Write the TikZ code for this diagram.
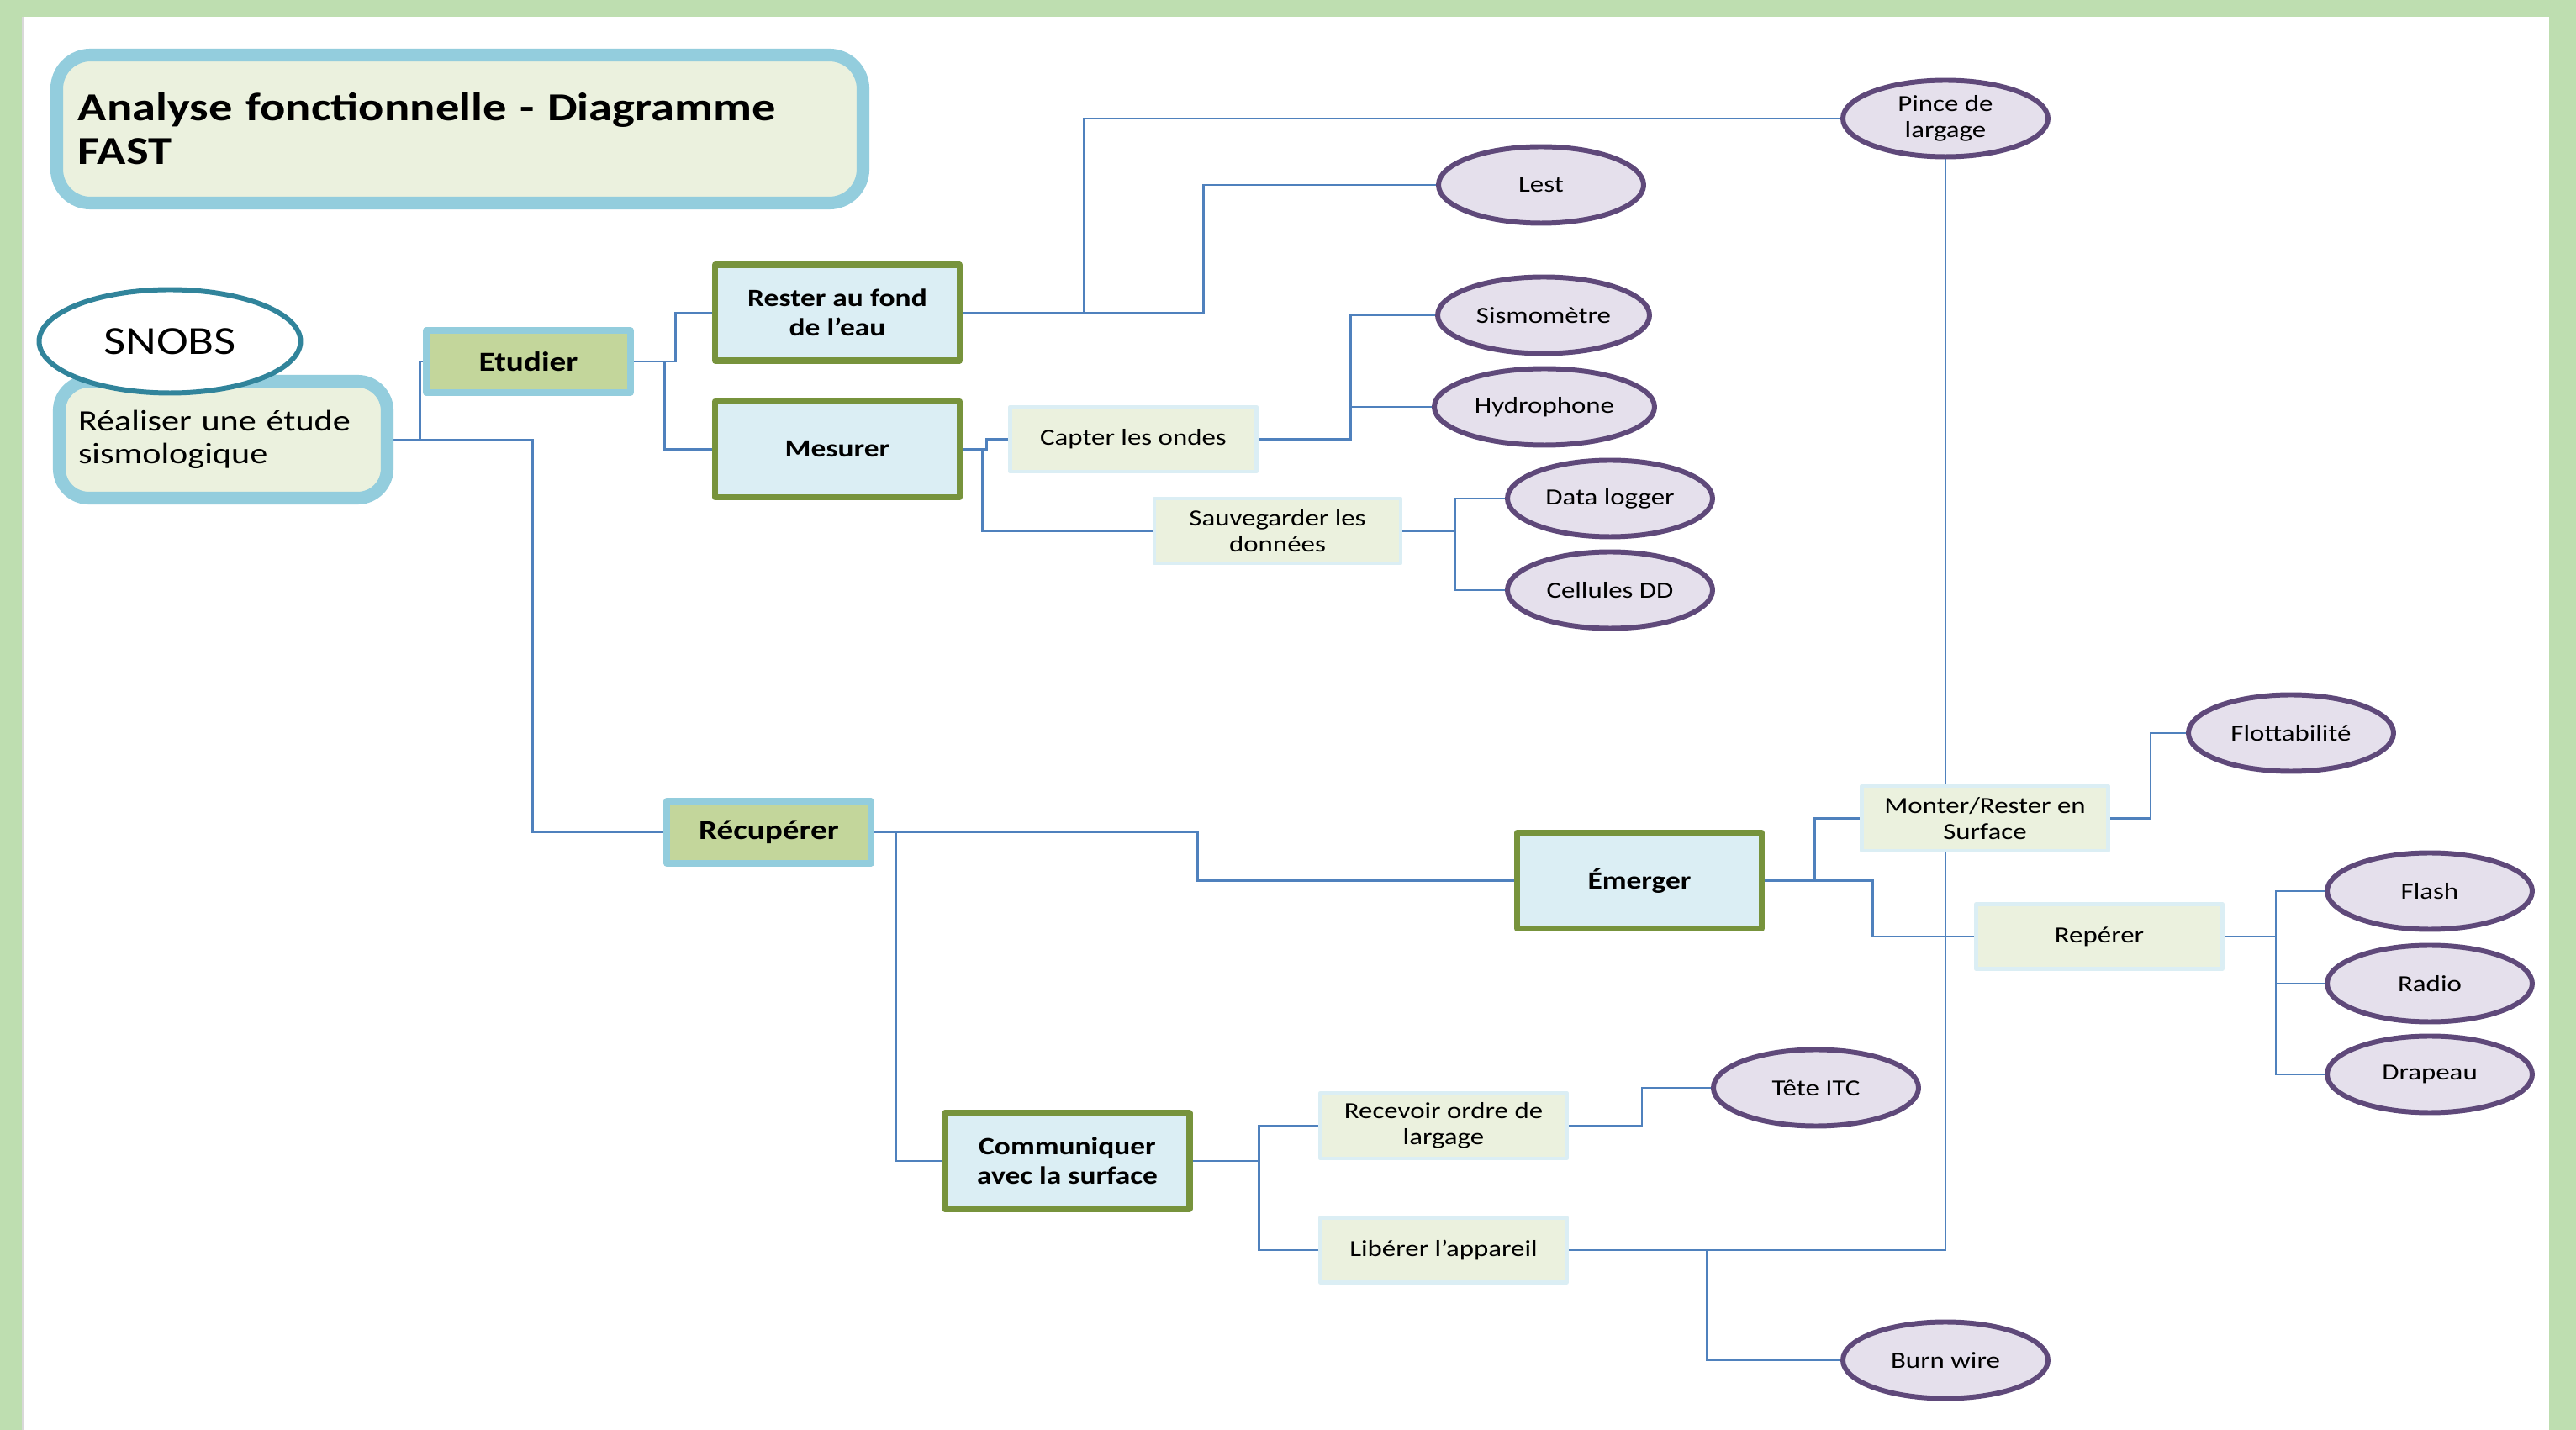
\documentclass[tikz,border=0pt]{standalone}
\usepackage{fontspec}
\setmainfont[FakeStretch=1.2]{Carlito}
\usetikzlibrary{shapes.geometric,backgrounds}
\definecolor{cadre}{RGB}{190,222,176}
\definecolor{bleuC}{RGB}{147,205,221}
\definecolor{vertP}{RGB}{235,241,222}
\definecolor{sarcelle}{RGB}{49,132,155}
\definecolor{olive}{RGB}{195,214,155}
\definecolor{bleuP}{RGB}{219,238,244}
\definecolor{vertF}{RGB}{119,147,60}
\definecolor{lilas}{RGB}{229,224,236}
\definecolor{prune}{RGB}{95,73,122}
\definecolor{trait}{RGB}{79,129,189}
\tikzset{
	fonc/.style={draw=vertF,line width=2pt,fill=bleuP,minimum width=2.91cm,minimum height=1.14cm,align=center,font=\fontsize{8.4}{10}\selectfont\bfseries},
	foncv/.style={fonc,draw=bleuC,fill=olive,minimum width=2.43cm,minimum height=0.74cm,font=\fontsize{9.3}{11}\selectfont\bfseries},
	sousf/.style={draw=bleuP,line width=1.2pt,fill=vertP,minimum width=2.93cm,minimum height=0.77cm,align=center,font=\fontsize{7.8}{8.8}\selectfont},
	sol/.style={ellipse,draw=prune,line width=1.7pt,fill=lilas,minimum width=2.44cm,minimum height=0.91cm,inner sep=0pt,align=center,font=\fontsize{7.8}{9}\selectfont},
	lien/.style={draw=trait,line width=0.7pt}
}
\begin{document}
\begin{tikzpicture}[line join=round]
			\useasboundingbox (0,0) rectangle (30.64,-17.01);
			% Titre
			\node[draw=bleuC,line width=4.3pt,fill=vertP,rounded corners=0.4cm,minimum width=9.59cm,minimum height=1.76cm,text width=9.08cm,align=left,font=\fontsize{13.4}{14.8}\selectfont\bfseries] (titre) at (5.47,-1.535) {Analyse fonctionnelle - Diagramme\\FAST};
			% Fonction globale
			\node[draw=bleuC,line width=4.3pt,fill=vertP,rounded corners=0.35cm,minimum width=3.90cm,minimum height=1.39cm,text width=3.45cm,align=left,font=\fontsize{10}{11.1}\selectfont] (real) at (2.655,-5.23) {Réaliser une étude\\sismologique};
			\node[ellipse,draw=sarcelle,line width=1.7pt,fill=white,minimum width=3.11cm,minimum height=1.23cm,font=\fontsize{13.5}{15}\selectfont] (snobs) at (2.02,-4.06) {SNOBS};
			% Fonctions de service
			\node[foncv] (etud) at (6.285,-4.30) {Etudier};
			\node[foncv] (recup) at (9.145,-9.90) {Récupérer};
			% Fonctions techniques
			\node[fonc] (rest) at (9.96,-3.72) {Rester au fond\\de l’eau};
			\node[fonc] (mes) at (9.96,-5.345) {Mesurer};
			\node[fonc] (emer) at (19.50,-10.475) {Émerger};
			\node[fonc] (comm) at (12.695,-13.81) {Communiquer\\avec la surface};
			% Sous-fonctions
			\node[sousf] (capt) at (13.48,-5.225) {Capter les ondes};
			\node[sousf] (sauv) at (15.195,-6.315) {Sauvegarder les\\données};
			\node[sousf] (mont) at (23.61,-9.735) {Monter/Rester en\\Surface};
			\node[sousf] (rep) at (24.97,-11.14) {Repérer};
			\node[sousf] (recv) at (17.17,-13.39) {Recevoir ordre de\\largage};
			\node[sousf] (lib) at (17.17,-14.87) {Libérer l’appareil};
			% Solutions
			\node[sol] (pince) at (23.14,-1.41) {Pince de\\largage};
			\node[sol] (lest) at (18.33,-2.20) {Lest};
			\node[sol,minimum width=2.52cm] (sismo) at (18.36,-3.75) {Sismomètre};
			\node[sol,minimum width=2.62cm] (hydro) at (18.37,-4.84) {Hydrophone};
			\node[sol] (data) at (19.15,-5.93) {Data logger};
			\node[sol] (cell) at (19.15,-7.02) {Cellules DD};
			\node[sol] (flot) at (27.25,-8.72) {Flottabilité};
			\node[sol] (flash) at (28.90,-10.60) {Flash};
			\node[sol] (radio) at (28.90,-11.70) {Radio};
			\node[sol] (drap) at (28.90,-12.78) {Drapeau};
			\node[sol] (tete) at (21.60,-12.94) {Tête ITC};
			\node[sol] (burn) at (23.14,-16.18) {Burn wire};
			\begin{scope}[on background layer]
				% Cadre
				\fill[cadre] (0,0) rectangle (30.64,-17.01);
				\fill[black!15] (0.26,-0.20) rectangle (0.29,-17.01);
				\fill[white] (0.29,-0.20) rectangle (30.32,-17.01);
				% Liaisons
				\draw[lien] (real.east) -- ++(0.315,0) |- (etud.west);
				\draw[lien] (real.east) -- ++(1.655,0) |- (recup.west);
				\draw[lien] (etud.east) -- ++(0.50,0) |- (rest.west);
				\draw[lien] (etud.east) -- ++(0.37,0) |- (mes.west);
				\draw[lien] (rest.east) -- ++(1.445,0) |- (pince.west);
				\draw[lien] (rest.east) -- ++(2.865,0) |- (lest.west);
				\draw[lien] (mes.east) -- ++(0.285,0) |- (capt.west);
				\draw[lien] (mes.east) -- ++(0.235,0) |- (sauv.west);
				\draw[lien] (capt.east) -- ++(1.10,0) |- (sismo.west);
				\draw[lien] (capt.east) -- ++(1.10,0) |- (hydro.west);
				\draw[lien] (sauv.east) -- ++(0.63,0) |- (data.west);
				\draw[lien] (sauv.east) -- ++(0.63,0) |- (cell.west);
				\draw[lien] (recup.east) -- ++(3.85,0) |- (emer.west);
				\draw[lien] (recup.east) -- ++(0.26,0) |- (comm.west);
				\draw[lien] (emer.east) -- ++(0.595,0) |- (mont.west);
				\draw[lien] (emer.east) -- ++(1.285,0) |- (rep.west);
				\draw[lien] (mont.east) -- ++(0.485,0) |- (flot.west);
				\draw[lien] (rep.east) -- ++(0.615,0) |- (flash.west);
				\draw[lien] (rep.east) -- ++(0.615,0) |- (radio.west);
				\draw[lien] (rep.east) -- ++(0.615,0) |- (drap.west);
				\draw[lien] (comm.east) -- ++(0.79,0) |- (recv.west);
				\draw[lien] (comm.east) -- ++(0.79,0) |- (lib.west);
				\draw[lien] (recv.east) -- ++(0.875,0) |- (tete.west);
				\draw[lien] (lib.east) -| (pince.south);
				\draw[lien] (lib.east) -- ++(1.645,0) |- (burn.west);
			\end{scope}
		\end{tikzpicture}
\end{document}
